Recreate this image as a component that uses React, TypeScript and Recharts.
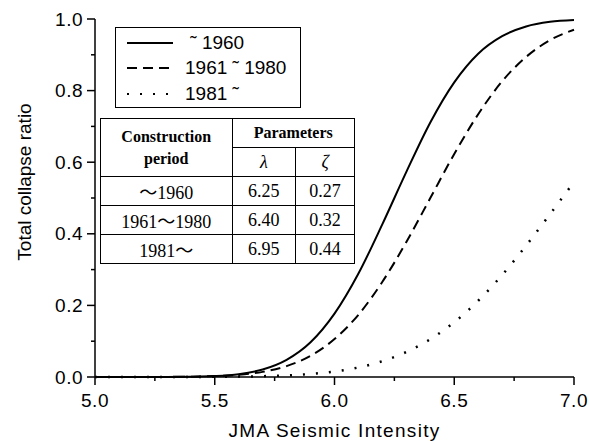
import { LineChart, Line, XAxis, YAxis, Legend } from 'recharts'

// values, every 0.1 of intensity
const intensity = [5.0, 5.1, 5.2, 5.3, 5.4, 5.5, 5.6, 5.7, 5.8, 5.9, 6.0, 6.1, 6.2, 6.3, 6.4, 6.5, 6.6, 6.7, 6.8, 6.9, 7.0]
const upTo1960 = [0, 0, 0.0001, 0.0002, 0.0008, 0.0027, 0.008, 0.021, 0.048, 0.097, 0.177, 0.289, 0.427, 0.573, 0.711, 0.823, 0.903, 0.952, 0.979, 0.992, 0.997]
const from1961to1980 = [0, 0, 0.0001, 0.0003, 0.0009, 0.0025, 0.0062, 0.0143, 0.0304, 0.059, 0.106, 0.174, 0.266, 0.377, 0.5, 0.623, 0.734, 0.826, 0.894, 0.941, 0.97]
const from1981 = [0, 0, 0, 0.0001, 0.0002, 0.0005, 0.0011, 0.0023, 0.0045, 0.0085, 0.0154, 0.0267, 0.0444, 0.0698, 0.1056, 0.153, 0.213, 0.285, 0.367, 0.455, 0.545]

const legendLabels = ['\u00a0˜ 1960', '1961 ˜ 1980', '1981 ˜']
const xTicks = [5, 5.25, 5.5, 5.75, 6, 6.25, 6.5, 6.75, 7]
const yTicks = [0, 0.1, 0.2, 0.3, 0.4, 0.5, 0.6, 0.7, 0.8, 0.9, 1.0]

const periods = ['～1960', '1961～1980', '1981～']
const lambdas = ['6.25', '6.40', '6.95']
const zetas = ['0.27', '0.32', '0.44']

const data = intensity.map((x, i) => ({
  x,
  a: upTo1960[i],
  b: from1961to1980[i],
  c: from1981[i],
}))

const SANS = "'Liberation Sans', Arial, sans-serif"
const SERIF = "'Liberation Serif', 'Times New Roman', 'Noto Sans CJK JP', serif"

function YTick({ x, y, payload }: any) {
  const v = payload.value
  const major = Math.round(v * 10) % 2 === 0
  return (
    <g>
      <line x1={x} x2={x - (major ? 8 : 4)} y1={y} y2={y} stroke='#000' strokeWidth={1.5} />
      {major && (
        <text x={x - 12} y={y} textAnchor='end' dominantBaseline='central' fontFamily={SANS} fontSize={19} letterSpacing={0.5} fill='#000'>
          {v.toFixed(1)}
        </text>
      )}
    </g>
  )
}

function XTick({ x, y, payload }: any) {
  const v = payload.value
  const major = Math.round(v * 4) % 2 === 0
  return (
    <g>
      <line x1={x} x2={x} y1={y} y2={y + (major ? 8 : 4)} stroke='#000' strokeWidth={1.5} />
      {major && (
        <text x={x} y={y + 30} textAnchor='middle' fontFamily={SANS} fontSize={19} letterSpacing={0.5} fill='#000'>
          {v.toFixed(1)}
        </text>
      )}
    </g>
  )
}

function LegendBox({ payload }: any) {
  // keep the series order instead of the default alphabetical sort
  const items = [...(payload || [])].sort(
    (p: any, q: any) => legendLabels.indexOf(p.value) - legendLabels.indexOf(q.value)
  )
  return (
    <div
      style={{
        border: '1px solid #000',
        background: '#fff',
        width: 184,
        height: 77,
        paddingTop: 2,
        boxSizing: 'content-box',
        fontFamily: SANS,
        fontSize: 19,
        color: '#000',
      }}
    >
      {items.map((entry: any) => (
        <div key={entry.value} style={{ display: 'flex', alignItems: 'center', height: 25.5 }}>
          <svg width={58} height={10} style={{ marginLeft: 11 }}>
            <line x1={0} x2={46} y1={5} y2={5} stroke='#000' strokeWidth={2} strokeDasharray={entry.payload?.strokeDasharray} />
          </svg>
          <span style={{ whiteSpace: 'pre' }}>{entry.value}</span>
        </div>
      ))}
    </div>
  )
}

const cell = {
  border: '1.5px solid #000',
  padding: 0,
  textAlign: 'center' as const,
  height: 28,
}

export default function App() {
  return (
    <div style={{ position: 'absolute', left: 0, top: 0, width: 589, height: 441, background: '#fff' }}>
      <LineChart width={589} height={441} data={data} margin={{ top: 19, right: 15, bottom: 0, left: 0 }}>
        <XAxis
          dataKey='x'
          type='number'
          domain={[5, 7]}
          ticks={xTicks}
          interval={0}
          height={64}
          tickSize={0}
          tickMargin={0}
          tickLine={false}
          axisLine={{ stroke: '#000', strokeWidth: 1.5 }}
          tick={<XTick />}
          label={{
            content: () => (
              <text x={334.5} y={437} textAnchor='middle' fontFamily={SANS} fontSize={19} letterSpacing={1.3} fill='#000'>
                JMA Seismic Intensity
              </text>
            ),
          }}
        />
        <YAxis
          type='number'
          domain={[0, 1]}
          ticks={yTicks}
          interval={0}
          width={95}
          tickSize={0}
          tickMargin={0}
          tickLine={false}
          axisLine={{ stroke: '#000', strokeWidth: 1.5 }}
          tick={<YTick />}
          label={{
            content: () => (
              <text
                x={24}
                y={182}
                transform='rotate(-90, 24, 182)'
                textAnchor='middle'
                dominantBaseline='central'
                fontFamily={SANS}
                fontSize={19}
                fill='#000'
              >
                Total collapse ratio
              </text>
            ),
          }}
        />
        <Legend
          layout='vertical'
          align='center'
          verticalAlign='middle'
          content={<LegendBox />}
          wrapperStyle={{ position: 'absolute', left: 115, top: 27, width: 'auto', height: 'auto' }}
        />
        <Line
          type='monotone'
          dataKey='a'
          name={legendLabels[0]}
          stroke='#000'
          strokeWidth={2}
          dot={false}
          isAnimationActive={false}
        />
        <Line
          type='monotone'
          dataKey='b'
          name={legendLabels[1]}
          stroke='#000'
          strokeWidth={2}
          strokeDasharray='10 6'
          dot={false}
          isAnimationActive={false}
        />
        <Line
          type='monotone'
          dataKey='c'
          name={legendLabels[2]}
          stroke='#000'
          strokeWidth={2.5}
          strokeDasharray='2 11'
          dot={false}
          isAnimationActive={false}
        />
      </LineChart>

      <table
        style={{
          position: 'absolute',
          left: 100,
          top: 118,
          width: 255,
          borderCollapse: 'collapse',
          background: '#fff',
          fontFamily: SERIF,
          fontSize: 18,
          color: '#000',
        }}
      >
        <colgroup>
          <col style={{ width: 132 }} />
          <col style={{ width: 64 }} />
          <col style={{ width: 59 }} />
        </colgroup>
        <tbody>
          <tr>
            <td rowSpan={2} style={{ ...cell, fontWeight: 'bold', fontSize: 16, lineHeight: '22px' }}>
              Construction
              <br />
              period
            </td>
            <td colSpan={2} style={{ ...cell, fontWeight: 'bold', fontSize: 16 }}>
              Parameters
            </td>
          </tr>
          <tr>
            <td style={{ ...cell, fontStyle: 'italic' }}>λ</td>
            <td style={{ ...cell, fontStyle: 'italic' }}>ζ</td>
          </tr>
          {periods.map((p, i) => (
            <tr key={p}>
              <td style={cell}>{p}</td>
              <td style={cell}>{lambdas[i]}</td>
              <td style={cell}>{zetas[i]}</td>
            </tr>
          ))}
        </tbody>
      </table>
    </div>
  )
}
